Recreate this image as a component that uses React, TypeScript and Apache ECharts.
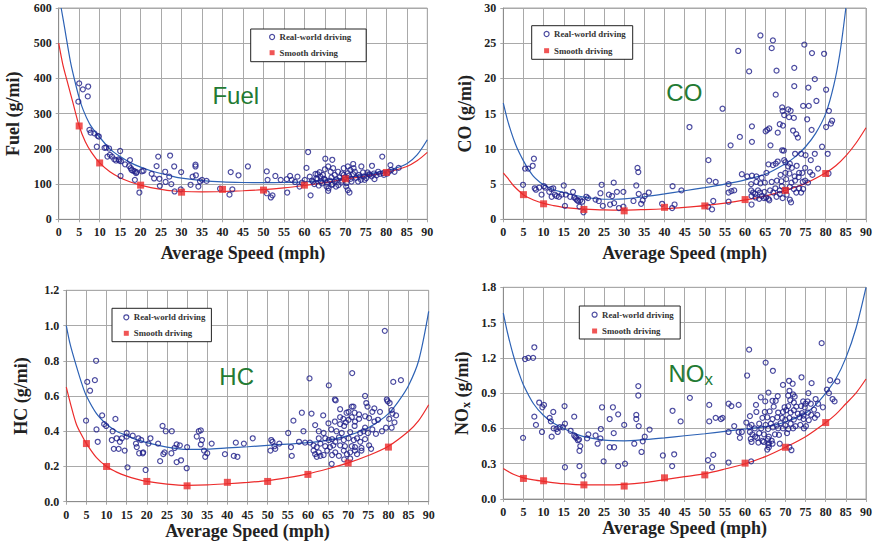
import React, { useEffect, useRef } from 'react';
import * as echarts from 'echarts';

// ---------- data: Fuel ----------
const fuelReal: number[][] = [
  [5.0,386],[5.9,369],[7.2,377],[7.1,349],[4.8,334],[7.5,254],[7.8,246],[8.7,244],[9.5,237],[9.8,235],[9.3,206],
  [11.2,203],[11.6,204],[12.3,201],[11.9,178],[12.5,183],[13.0,178],[13.6,170],[14.0,167],[14.6,170],[15.0,194],
  [14.8,167],[15.2,165],[15.1,123],[16.2,156],[17.2,151],[17.4,168],[17.6,145],[17.8,140],[18.2,138],[18.6,136],
  [18.9,131],[19.0,134],[18.6,112],[19.7,76],[20.3,136],[20.7,138],[22.7,129],[23.3,116],[23.9,151],[24.3,178],
  [24.6,115],[24.7,95],[26.0,135],[26.1,106],[27.2,181],[27.0,121],[27.5,100],[28.2,150],[28.3,79],[29.9,134],
  [29.8,85],[32.2,98],[32.7,121],[33.4,155],[33.4,150],[33.5,125],[34.1,93],[34.5,108],[35.0,112],[36.1,109],
  [39.4,87],[41.7,70],[42.0,134],[42.4,85],[43.9,125],[46.2,150],[50.8,136],[51.0,112],[50.8,74],[51.8,62],
  [52.2,68],[52.9,123],[54.2,112],[55.8,76],[55.7,114],[56.5,123],[56.9,112],[57.7,106],
  [60.9,191],[65.1,172],[66.8,169],[60.5,146],[58.3,121],[58.8,93],[61.3,121],[62.7,129],[63.7,134],[65.0,142],
  [65.8,150],[67.0,145],[68.2,135],[69.6,145],[70.6,150],[71.9,157],[72.3,135],[73.9,150],[75.4,133],[76.5,152],
  [79.0,178],[81.0,154],[83.0,146],[80.6,135],[77.1,114],[74.7,112],[73.5,121],[71.5,107],[70.6,83],[71.0,76],
  [70.2,93],[65.8,81],[65.9,88],[61.5,68],[59.4,104],[60.1,112],[62.1,107],[63.2,114],[64.3,102],[65.1,112],
  [66.6,119],[67.4,107],[68.6,119],[69.0,104],[73.1,107],[75.9,126],[78.0,135],[79.2,131],[82.0,135],[67.4,126],
  [64.5,126],[69.6,126],[74.3,133],[63.9,121],[66.7,98],[67.7,93],[65.4,93],
  [61.8,110],[62.4,100],[62.9,116],[63.5,96],[64.0,108],[64.8,115],[65.5,104],[66.2,110],[66.9,100],[67.8,113],
  [68.3,97],[69.2,110],[69.8,118],[70.3,103],[70.9,124],[71.3,115],[71.9,128],[72.6,118],[73.3,126],[73.8,112],
  [74.5,122],[75.1,117],[75.8,128],[76.4,122],[77.0,130],[77.6,125],[78.4,129],[79.4,126],[80.2,130],[81.2,140],
  [70.6,131],[71.2,140],[72.0,145],[69.2,130],[66.4,135],[63.2,128]
];
const fuelSmooth: number[][] = [[5,265],[10,160],[20,97],[30,77],[40,85],[50,83],[60,97],[70,115],[80,133]];
const fuelFitReal: number[][] = [
  [0.6,600],[1.5,540],[2,505],[3,440],[4,390],[5,345],[6,310],[7.5,272],[9,247],[10,233],[12.5,200],[15,178],
  [17.5,161],[20,148],[22.5,138],[25,130],[27.5,123],[30,117],[35,110],[40,106],[45,104.5],[50,104],[55,104.5],
  [60,106],[65,111],[70,118],[75,127],[80,138],[82.5,146],[85,158],[87.5,183],[90,226]
];
const fuelFitSmooth: number[][] = [
  [0,500],[1,440],[2,395],[3.5,330],[5,265],[6.5,220],[8,190],[10,160],[12.5,135],[15,118],[17.5,106],[20,97],
  [22.5,90],[25,85],[27.5,81],[30,79],[35,78],[40,79],[45,81],[50,84],[55,89],[60,96],[65,104],[70,114],[75,123],
  [80,133],[85,150],[87.5,166],[90,190]
];

// ---------- data: CO ----------
const coReal: number[][] = [
  [4.9,4.9],[5.4,7.2],[6.2,7.2],[7.3,7.6],[7.6,8.6],[7.8,4.4],[8.1,4.2],[8.9,4.5],[9.5,3.5],[10.1,4.7],[10.4,4.5],
  [11.4,3.9],[11.9,4.3],[12.4,4.4],[12.0,3.2],[12.8,3.5],[13.2,3.3],[13.8,3.2],[14.5,3.5],[15.0,4.8],[15.3,1.9],
  [15.5,3.5],[16.6,3.2],[17.3,3.9],[17.6,3.1],[18.0,2.9],[18.3,2.7],[18.6,2.6],[19.1,2.7],[18.9,1.8],[19.6,2.5],
  [19.9,1.0],[20.6,3.2],[21.0,3.0],[22.9,2.8],[23.7,2.6],[24.1,3.7],[24.4,4.9],[24.7,1.9],[26.2,3.5],[26.5,2.1],
  [27.0,3.3],[27.4,5.2],[27.5,2.3],[28.2,3.9],[28.7,1.6],[29.8,3.9],[29.8,1.8],[32.3,2.6],[33.0,4.8],[33.3,7.3],
  [33.5,6.7],[33.6,3.6],[34.2,2.2],[34.6,2.7],[35.1,3.3],[36.1,3.8],[39.4,2.2],[41.9,1.6],[42.0,4.7],[42.5,2.1],
  [44.2,4.1],[46.2,13.1],[50.8,1.8],[50.9,8.4],[51.1,5.5],[51.8,1.4],[52.1,2.6],[52.7,5.3],
  [63.8,26.1],[66.9,25.4],[66.6,24.3],[58.3,23.9],[74.7,24.8],[76.6,23.6],[79.6,23.5],[61.0,21.0],[67.8,21.1],
  [72.2,21.5],[77.3,19.9],[72.2,18.9],[75.7,18.7],[80.1,18.4],[67.6,17.7],[77.7,16.8],[54.4,15.7],[69.2,15.9],
  [69.3,15.4],[70.7,15.6],[71.3,15.4],[74.4,16.1],[75.8,16.1],[80.8,15.4],[69.7,14.8],[70.9,14.5],[72.1,14.4],
  [75.4,14.2],[81.6,14.0],[81.3,13.6],[61.7,13.2],[66.0,12.9],[65.1,12.5],[65.5,12.7],[68.6,13.5],[69.4,13.3],
  [71.9,12.6],[72.7,12.1],[73.1,11.6],[68.1,12.3],[76.5,12.7],[80.1,13.1],[58.7,11.7],[56.4,10.5],[61.7,11.0],
  [66.3,10.5],[69.2,9.8],[69.6,9.75],[72.4,9.3],[73.9,9.3],[75.0,9.1],[77.3,9.3],[76.3,8.4],[79.1,10.3],[80.5,9.3],
  [69.7,8.4],[70.0,8.1],[68.1,8.2],[67.6,7.9],[65.8,7.8],[66.9,7.7],[70.7,7.5],[71.1,7.9],[71.6,7.3],[72.8,7.6],
  [73.4,6.6],[74.9,7.3],[76.1,6.7],[78.1,7.2],[59.2,6.4],[60.5,6.1],[61.7,6.2],[62.8,6.1],[64.1,5.9],[65.3,6.6],
  [68.8,6.3],[70.0,6.6],[71.0,6.5],[72.3,6.1],[73.3,6.0],[74.2,6.6],[76.7,6.3],[80.7,6.5],[55.9,5.0],[61.5,5.0],
  [62.8,5.3],[63.8,5.1],[64.9,5.2],[66.6,5.3],[67.9,5.5],[69.0,5.4],[70.2,5.7],[71.5,5.2],[72.4,5.5],[74.3,5.3],
  [74.9,5.5],[75.6,5.2],[55.9,3.8],[56.6,4.0],[57.3,4.1],[61.5,4.1],[62.0,3.8],[62.5,3.6],[63.2,4.1],[63.7,3.8],
  [64.8,3.9],[66.2,4.1],[67.0,3.8],[67.5,4.4],[68.6,4.1],[69.1,4.7],[70.1,4.1],[71.1,4.6],[72.1,4.3],[72.7,3.8],
  [73.4,4.4],[74.4,4.3],[61.6,3.3],[62.6,3.1],[64.1,3.3],[65.2,3.1],[65.8,2.9],[66.0,2.7],[63.5,2.9],[67.8,3.2],
  [69.3,3.0],[71.1,2.8],[71.4,2.4],[55.9,2.5],[61.6,2.1],[64.7,3.0],[68.6,3.6],[70.3,3.5],[73.9,3.8]
];
const coSmooth: number[][] = [[5,3.5],[10,2.2],[20,1.4],[30,1.2],[40,1.7],[50,1.9],[60,2.8],[70,4.1],[80,6.5]];
const coFitReal: number[][] = [
  [0,16.5],[1,14.2],[2,12.3],[3,10.7],[4,9.4],[5,8.3],[6,7.3],[7.5,6.1],[9,5.3],[10,4.9],[12.5,4.2],[15,3.8],
  [17.5,3.45],[20,3.15],[22.5,2.95],[25,2.85],[27.5,2.85],[30,2.9],[35,3.2],[40,3.6],[45,4.05],[50,4.5],[55,5.0],
  [60,5.6],[65,6.4],[70,7.9],[72.5,8.9],[75,10.3],[77.5,12.2],[80,15],[82,19],[83.5,23.5],[85,30]
];
const coFitSmooth: number[][] = [
  [0,6.6],[1,5.9],[2.5,4.8],[5,3.5],[7.5,2.75],[10,2.25],[12.5,1.95],[15,1.7],[17.5,1.55],[20,1.45],[25,1.33],
  [30,1.3],[35,1.38],[40,1.5],[45,1.7],[50,1.95],[55,2.3],[60,2.75],[65,3.3],[70,4.1],[75,5.1],[80,6.6],[82.5,7.6],
  [85,9.0],[87.5,10.8],[90,13.0]
];

// ---------- data: HC ----------
const hcReal: number[][] = [
  [4.9,0.46],[5.2,0.68],[5.9,0.63],[7.1,0.69],[7.4,0.8],[7.5,0.41],[7.8,0.34],[8.9,0.49],[9.4,0.44],[9.9,0.43],
  [11.5,0.4],[11.3,0.35],[11.8,0.3],[12.2,0.47],[12.5,0.36],[13.0,0.3],[13.3,0.34],[13.8,0.36],[14.5,0.29],
  [15.0,0.39],[15.0,0.37],[15.2,0.195],[16.5,0.375],[17.3,0.33],[17.5,0.31],[17.9,0.36],[18.1,0.275],[18.6,0.35],
  [19.0,0.275],[19.1,0.28],[19.7,0.18],[20.4,0.33],[20.9,0.36],[22.8,0.33],[23.3,0.23],[23.9,0.43],[24.1,0.27],
  [24.4,0.28],[24.7,0.4],[26.1,0.275],[26.2,0.4],[26.9,0.305],[27.4,0.325],[27.4,0.225],[28.2,0.32],[28.5,0.235],
  [29.9,0.19],[30.0,0.31],[32.4,0.37],[32.9,0.4],[33.4,0.405],[33.4,0.325],[33.7,0.35],[34.2,0.29],[34.5,0.255],
  [35.0,0.275],[36.1,0.33],[39.4,0.27],[41.6,0.26],[42.1,0.335],[42.5,0.255],[44.1,0.33],[46.3,0.36],[50.7,0.29],
  [50.9,0.35],[51.2,0.34],[51.7,0.315],[51.9,0.3],[52.9,0.33],
  [60.4,0.7],[65.2,0.66],[71.0,0.73],[81.2,0.68],[83.1,0.69],[74.2,0.6],[66.7,0.58],[66.9,0.575],[70.9,0.54],
  [71.3,0.54],[74.5,0.56],[74.8,0.54],[79.6,0.58],[79.8,0.57],[80.3,0.56],[58.5,0.505],[56.4,0.46],[60.9,0.5],
  [63.8,0.49],[68.0,0.525],[69.6,0.505],[70.1,0.51],[71.6,0.505],[72.7,0.495],[76.0,0.51],[76.5,0.53],[77.9,0.51],
  [80.8,0.52],[81.0,0.5],[68.0,0.48],[68.8,0.47],[70.1,0.465],[70.9,0.48],[71.7,0.455],[72.7,0.47],[69.4,0.45],
  [68.0,0.44],[74.2,0.485],[75.2,0.475],[76.5,0.455],[77.4,0.465],[80.2,0.47],[81.9,0.49],[81.5,0.45],[61.8,0.435],
  [65.1,0.445],[65.8,0.41],[66.7,0.455],[69.0,0.43],[71.6,0.43],[74.2,0.42],[76.0,0.41],[78.4,0.4],[79.4,0.42],
  [80.8,0.42],[58.9,0.4],[62.7,0.4],[63.9,0.39],[67.1,0.4],[68.4,0.39],[70.5,0.395],[73.0,0.39],[73.8,0.4],
  [74.9,0.39],[76.9,0.385],[55.1,0.39],[57.8,0.34],[59.3,0.335],[60.5,0.335],[62.7,0.36],[64.3,0.36],[65.2,0.35],
  [66.0,0.355],[66.8,0.34],[67.7,0.365],[68.9,0.35],[70.1,0.36],[71.4,0.35],[72.2,0.36],[73.0,0.34],[74.2,0.355],
  [61.4,0.32],[62.2,0.31],[63.1,0.33],[64.3,0.315],[65.5,0.31],[66.3,0.32],[68.0,0.32],[69.2,0.315],[70.9,0.315],
  [71.7,0.31],[73.3,0.305],[75.2,0.32],[55.8,0.31],[56.0,0.26],[61.4,0.29],[61.8,0.27],[62.7,0.28],[63.1,0.26],
  [63.9,0.265],[64.8,0.29],[66.0,0.265],[66.8,0.28],[67.7,0.26],[68.9,0.29],[69.7,0.27],[70.5,0.28],[71.7,0.29],
  [72.2,0.27],[73.3,0.29],[75.7,0.3],[62.2,0.255],[65.9,0.215],[69.0,0.24],[70.5,0.245],[79.1,0.97]
];
const hcSmooth: number[][] = [[5,0.33],[10,0.2],[20,0.115],[30,0.09],[40,0.11],[50,0.115],[60,0.155],[70,0.22],[80,0.31]];
const hcFitReal: number[][] = [
  [0,1.0],[1,0.89],[2.5,0.77],[4,0.66],[5,0.6],[7.5,0.5],[10,0.44],[12.5,0.4],[15,0.375],[17.5,0.352],[20,0.335],
  [25,0.31],[30,0.297],[35,0.298],[40,0.305],[45,0.312],[50,0.32],[55,0.327],[60,0.335],[65,0.35],[70,0.375],
  [75,0.42],[77.5,0.455],[80,0.5],[82.5,0.57],[85,0.66],[87.5,0.8],[90,1.08]
];
const hcFitSmooth: number[][] = [
  [0,0.65],[1,0.56],[2.5,0.44],[4,0.37],[5,0.33],[7.5,0.25],[10,0.2],[12.5,0.168],[15,0.145],[17.5,0.128],
  [20,0.115],[25,0.1],[30,0.093],[35,0.095],[40,0.102],[45,0.11],[50,0.12],[55,0.137],[60,0.158],[65,0.187],
  [70,0.22],[75,0.262],[80,0.315],[85,0.4],[87.5,0.46],[90,0.55]
];

// ---------- data: NOx ----------
const noxReal: number[][] = [
  [4.9,0.52],[5.4,1.19],[6.2,1.2],[7.4,1.2],[7.7,1.29],[7.7,0.7],[8.1,0.63],[8.9,0.82],[9.6,0.57],[9.7,0.78],
  [10.1,0.8],[11.5,0.69],[11.8,0.66],[12.0,0.53],[12.4,0.74],[12.5,0.6],[13.2,0.595],[13.5,0.57],[14.0,0.61],
  [14.8,0.61],[15.2,0.79],[15.3,0.64],[15.3,0.27],[16.7,0.58],[17.6,0.7],[17.6,0.54],[17.9,0.53],[18.1,0.52],
  [18.5,0.5],[18.8,0.505],[18.9,0.41],[19.1,0.45],[18.9,0.28],[19.9,0.2],[20.8,0.515],[21.1,0.55],[22.9,0.54],
  [23.4,0.47],[24.1,0.515],[24.2,0.595],[24.5,0.78],[24.9,0.32],[26.4,0.44],[26.4,0.68],[27.2,0.78],[27.4,0.56],
  [27.5,0.44],[28.5,0.28],[28.5,0.72],[30.0,0.63],[30.2,0.3],[32.5,0.47],[33.0,0.715],[33.0,0.68],[33.5,0.96],
  [33.5,0.88],[33.6,0.62],[34.3,0.4],[34.6,0.49],[35.1,0.53],[36.3,0.59],[39.6,0.37],[41.9,0.28],[42.0,0.75],
  [42.4,0.38],[44.0,0.66],[46.3,0.86],[50.8,0.33],[51.1,0.8],[51.1,0.66],[51.8,0.27],[52.1,0.375],[52.7,0.69],
  [79.0,1.325],[61.0,1.27],[65.1,1.16],[66.9,1.09],[60.5,1.05],[74.0,1.035],[81.1,1.01],[82.9,1.0],[70.9,1.005],
  [71.8,0.98],[76.5,0.985],[69.4,0.97],[80.3,0.93],[71.0,0.92],[65.8,0.905],[68.1,0.875],[70.7,0.88],[71.9,0.89],
  [72.3,0.87],[75.7,0.9],[77.5,0.85],[80.8,0.9],[81.7,0.85],[82.2,0.83],[63.9,0.865],[66.8,0.835],[67.6,0.835],
  [65.0,0.83],[71.2,0.84],[72.1,0.82],[74.4,0.83],[75.5,0.83],[75.0,0.81],[76.3,0.81],[78.1,0.81],[79.3,0.78],
  [55.9,0.81],[56.6,0.79],[58.4,0.8],[62.7,0.8],[67.1,0.785],[69.8,0.78],[70.7,0.79],[72.7,0.785],[73.9,0.79],
  [74.8,0.78],[77.1,0.76],[54.4,0.69],[57.3,0.62],[61.2,0.705],[62.8,0.74],[64.9,0.74],[66.1,0.745],[68.2,0.735],
  [69.4,0.74],[70.2,0.755],[71.3,0.735],[72.1,0.755],[73.1,0.725],[74.1,0.73],[75.6,0.735],[76.4,0.715],[77.9,0.715],
  [64.3,0.69],[65.5,0.695],[66.8,0.68],[68.0,0.695],[69.2,0.69],[70.0,0.675],[71.0,0.69],[72.1,0.675],[73.5,0.695],
  [74.5,0.68],[75.8,0.67],[77.3,0.69],[74.5,0.71],[60.3,0.65],[61.6,0.63],[63.5,0.64],[65.1,0.63],[66.4,0.64],
  [67.8,0.625],[68.8,0.645],[70.0,0.625],[71.3,0.64],[72.5,0.62],[73.7,0.63],[75.1,0.62],[61.1,0.61],[62.4,0.6],
  [64.0,0.6],[65.7,0.595],[66.9,0.61],[68.2,0.6],[69.4,0.6],[70.7,0.595],[71.9,0.6],[74.6,0.6],[54.0,0.68],
  [55.9,0.57],[58.4,0.57],[59.2,0.57],[58.7,0.52],[61.2,0.57],[61.8,0.55],[62.5,0.53],[63.5,0.56],[64.7,0.55],
  [65.9,0.53],[67.4,0.55],[68.4,0.545],[70.4,0.56],[61.4,0.51],[63.0,0.52],[64.3,0.495],[65.7,0.51],[66.6,0.495],
  [61.6,0.485],[63.3,0.48],[64.6,0.485],[65.9,0.475],[65.8,0.46],[66.8,0.47],[68.6,0.47],[71.0,0.44],[65.9,0.44],
  [65.5,0.42],[55.9,0.31],[61.5,0.32],[71.5,0.415]
];
const noxSmooth: number[][] = [[5,0.175],[10,0.155],[20,0.12],[30,0.11],[40,0.18],[50,0.205],[60,0.305],[70,0.44],[80,0.65]];
const noxFitReal: number[][] = [
  [0,1.58],[1,1.42],[2.5,1.22],[4,1.06],[5,0.97],[7.5,0.81],[10,0.71],[12.5,0.645],[15,0.6],[17.5,0.56],[20,0.53],
  [25,0.5],[30,0.495],[35,0.505],[40,0.52],[45,0.538],[50,0.555],[55,0.575],[60,0.595],[65,0.615],[70,0.655],
  [75,0.73],[77.5,0.8],[80,0.9],[82.5,1.02],[85,1.2],[87.5,1.45],[90,1.8]
];
const noxFitSmooth: number[][] = [
  [0,0.26],[2.5,0.21],[5,0.18],[7.5,0.162],[10,0.15],[15,0.13],[20,0.12],[25,0.12],[30,0.125],[35,0.14],
  [40,0.165],[45,0.19],[50,0.215],[55,0.255],[60,0.3],[65,0.36],[70,0.44],[75,0.53],[80,0.65],[82.5,0.72],
  [85,0.81],[87.5,0.9],[90,1.02]
];

const realName = 'Real-world driving';
const smoothName = 'Smooth driving';
const speedTitle = 'Average Speed (mph)';

const SERIF = "'Liberation Serif','Times New Roman',serif";
const SANS = "'Liberation Sans',Arial,Helvetica,sans-serif";
const GREEN = '#237a33';
const NAVY = '#1e1e88';
const RED = '#ec2b2b';
const BLUE = '#2d62b5';
const GRIDC = '#a9a9a9';

const panels = [
  {
    real: fuelReal, smooth: fuelSmooth, fitReal: fuelFitReal, fitSmooth: fuelFitSmooth,
    yMax: 600, yStep: 100, dec: 0, yName: 'Fuel (g/mi)', tag: 'Fuel',
    grid: { left: 58.7, top: 8, width: 368.6, height: 211.3 }, yGap: 37, xGap: 25,
    legend: { left: 250.7, top: 29, padding: [3, 15, 4, 18.3], gap: 5.7 },
    tagPos: [235.8, 95],
  },
  {
    real: coReal, smooth: coSmooth, fitReal: coFitReal, fitSmooth: coFitSmooth,
    yMax: 30, yStep: 5, dec: 0, yName: 'CO (g/mi)', tag: 'CO',
    grid: { left: 503.3, top: 8, width: 364, height: 211.3 }, yGap: 29.5, xGap: 25,
    legend: { left: 531.7, top: 25.7, padding: [3.3, 7, 3.6, 11.8], gap: 6.7 },
    tagPos: [684.3, 92],
  },
  {
    real: hcReal, smooth: hcSmooth, fitReal: hcFitReal, fitSmooth: hcFitSmooth,
    yMax: 1.2, yStep: 0.2, dec: 1, yName: 'HC (g/mi)', tag: 'HC',
    grid: { left: 66.3, top: 290.3, width: 362.4, height: 211.4 }, yGap: 36, xGap: 16,
    legend: { left: 112, top: 308.3, padding: [4, 6, 3.4, 11.2], gap: 6 },
    tagPos: [236.7, 376],
  },
  {
    real: noxReal, smooth: noxSmooth, fitReal: noxFitReal, fitSmooth: noxFitSmooth,
    yMax: 1.8, yStep: 0.3, dec: 1, yName: '{m|NO}{s|x}{m| (g/mi)}', tag: '{m|NO}{s|x}',
    grid: { left: 503.3, top: 287.3, width: 364, height: 211.7 }, yGap: 31, xGap: 18.5,
    legend: { left: 579.3, top: 306, padding: [3.7, 6.5, 3, 12.2], gap: 6.3 },
    tagPos: [690.7, 373.3],
  },
];

function buildOption() {
  const grid: any[] = [];
  const xAxis: any[] = [];
  const yAxis: any[] = [];
  const series: any[] = [];
  const legend: any[] = [];
  const graphic: any[] = [];

  panels.forEach((p, i) => {
    grid.push({ ...p.grid, show: true, borderColor: GRIDC, borderWidth: 1, backgroundColor: '#fff' });
    xAxis.push({
      type: 'value', gridIndex: i, min: 0, max: 90, interval: 5,
      name: speedTitle, nameLocation: 'middle', nameGap: p.xGap,
      nameTextStyle: { fontFamily: SERIF, fontWeight: 'bold', fontSize: 18, color: '#222' },
      axisLine: { show: true, lineStyle: { color: '#8c8c8c', width: 1 } },
      axisTick: { show: true, length: 3, lineStyle: { color: GRIDC } },
      axisLabel: { fontFamily: SERIF, fontWeight: 'bold', fontSize: 12, color: '#222', margin: 7 },
      splitLine: { show: true, lineStyle: { color: GRIDC, width: 1 } },
    });
    yAxis.push({
      type: 'value', gridIndex: i, min: 0, max: p.yMax, interval: p.yStep,
      name: p.yName, nameLocation: 'middle', nameGap: p.yGap, nameRotate: 90,
      nameTextStyle: {
        fontFamily: SERIF, fontWeight: 'bold', fontSize: 18, color: '#222',
        rich: {
          m: { fontFamily: SERIF, fontWeight: 'bold', fontSize: 18, color: '#222' },
          s: { fontFamily: SERIF, fontWeight: 'bold', fontSize: 12, color: '#222', padding: [8, 0, 0, 0], verticalAlign: 'top' },
        },
      },
      axisLine: { show: true, lineStyle: { color: '#8c8c8c', width: 1 } },
      axisTick: { show: true, length: 3, lineStyle: { color: GRIDC } },
      axisLabel: {
        fontFamily: SERIF, fontWeight: 'bold', fontSize: 12, color: '#222', margin: 7,
        formatter: (v: number) => v.toFixed(p.dec),
      },
      splitLine: { show: true, lineStyle: { color: GRIDC, width: 1 } },
    });
    series.push({
      type: 'line', name: 'fit-real-' + i, xAxisIndex: i, yAxisIndex: i, data: p.fitReal,
      smooth: 0.3, showSymbol: false, silent: true, clip: true,
      lineStyle: { color: BLUE, width: 1.2 }, z: 2,
    });
    series.push({
      type: 'line', name: 'fit-smooth-' + i, xAxisIndex: i, yAxisIndex: i, data: p.fitSmooth,
      smooth: 0.3, showSymbol: false, silent: true, clip: true,
      lineStyle: { color: RED, width: 1.2 }, z: 2,
    });
    series.push({
      type: 'scatter', name: realName, xAxisIndex: i, yAxisIndex: i, data: p.real,
      symbol: 'circle', symbolSize: 5,
      itemStyle: { color: 'rgba(255,255,255,0)', borderColor: NAVY, borderWidth: 1.2 }, z: 3,
    });
    series.push({
      type: 'scatter', name: smoothName, xAxisIndex: i, yAxisIndex: i, data: p.smooth,
      symbol: 'rect', symbolSize: 7, itemStyle: { color: RED }, z: 4,
    });
    legend.push({
      left: p.legend.left, top: p.legend.top, orient: 'vertical',
      padding: p.legend.padding, itemGap: p.legend.gap,
      itemWidth: 5, itemHeight: 5, selectedMode: false,
      backgroundColor: '#fff', borderColor: '#222', borderWidth: 1, borderRadius: 0,
      textStyle: { fontFamily: SERIF, fontWeight: 'bold', fontSize: 8.8, color: '#333', lineHeight: 10 },
      data: [
        { name: realName, icon: 'circle', itemStyle: { color: 'rgba(255,255,255,0)', borderColor: NAVY, borderWidth: 1.2 } },
        { name: smoothName, icon: 'rect', itemStyle: { color: RED } },
      ],
    });
    graphic.push({
      type: 'text', x: p.tagPos[0], y: p.tagPos[1], z: 10,
      style: {
        text: p.tag, align: 'center', verticalAlign: 'middle',
        fill: GREEN, fontFamily: SANS, fontSize: 24,
        rich: {
          m: { fill: GREEN, fontFamily: SANS, fontSize: 24 },
          s: { fill: GREEN, fontFamily: SANS, fontSize: 17, padding: [12, 0, 0, 0], verticalAlign: 'top' },
        },
      },
    });
  });

  return { animation: false, backgroundColor: '#fff', grid, xAxis, yAxis, series, legend, graphic };
}

export default function App() {
  const ref = useRef<HTMLDivElement>(null);
  useEffect(() => {
    if (!ref.current) return;
    const chart = echarts.init(ref.current, undefined, { renderer: 'svg' });
    chart.setOption(buildOption() as any);
    return () => chart.dispose();
  }, []);
  return (
    <div
      ref={ref}
      style={{ position: 'fixed', left: 0, top: 0, width: 875, height: 549, background: '#fff' }}
    />
  );
}
